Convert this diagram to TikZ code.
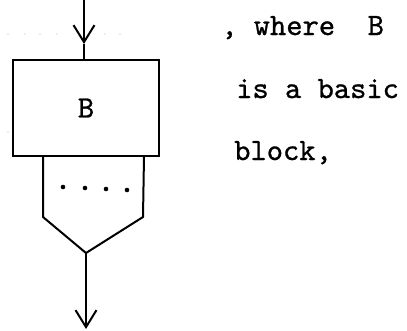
\documentclass[tikz,border=0pt]{standalone}
\usepackage{fontspec}
\usepackage{tikz}
\usetikzlibrary{arrows.meta,positioning}

\newfontfamily\typew[FakeBold=0.8]{lmmono10-regular.otf}

\begin{document}
\begin{tikzpicture}[
  x=1pt, y=-1pt,
  font=\typew\fontsize{31}{31}\selectfont,
  % ---- boxes -------------------------------------------------------------
  basicbox/.style={
    draw=black, line width=2.2pt, fill=white,
    minimum width=146pt, minimum height=96pt, inner sep=0pt},
  words/.style={anchor=base west, inner sep=0pt},
  % ---- edges -------------------------------------------------------------
  wire/.style={draw=black, line width=2pt, line join=miter},
  flow/.style={wire, -{Straight Barb[length=17pt,width=21pt,line width=2pt]}},
  ruling/.style={fill=black!30},
]

\useasboundingbox (0,0) rectangle (407,330);

% ---- faint ruling dots (scan) ----------------------------------------------
\foreach \xx in {8,25,40,57,105,120}
  { \fill[ruling] (\xx,34) circle (0.7pt); }
\foreach \xx in {8,25,40,88,120}
  { \fill[ruling] (\xx,132) circle (0.7pt); }

% ---- basic block ------------------------------------------------------------
\node[basicbox] (blk) at (86,108) {B};

% ---- input arrow -----------------------------------------------------------
\coordinate (top) at (84,0);
\coordinate (vin) at (84,44);
\draw[flow] (top) -- (vin);
\draw[wire] (vin) -- (top |- blk.north);

% ---- outputs merge into one ------------------------------------------------
\coordinate (merge) at (86,253);
\draw[wire] (43,156) -- (43,217) -- (merge) -- (143,217) -- (144,156);
\foreach \xx/\yy in {63/187, 85/188, 106/189, 127/190}
  { \fill (\xx,\yy) circle (2.3pt); }

\coordinate (out) at (86,329);
\draw[flow] (merge) -- (out);

% ---- side text -------------------------------------------------------------
\node[words] (t1) at (221,35)  {,\ where\ \ B};
\node[words] (t2) at (236,98)  {is\ a\ basic};
\node[words] (t3) at (234,160) {block,};

\end{tikzpicture}
\end{document}
